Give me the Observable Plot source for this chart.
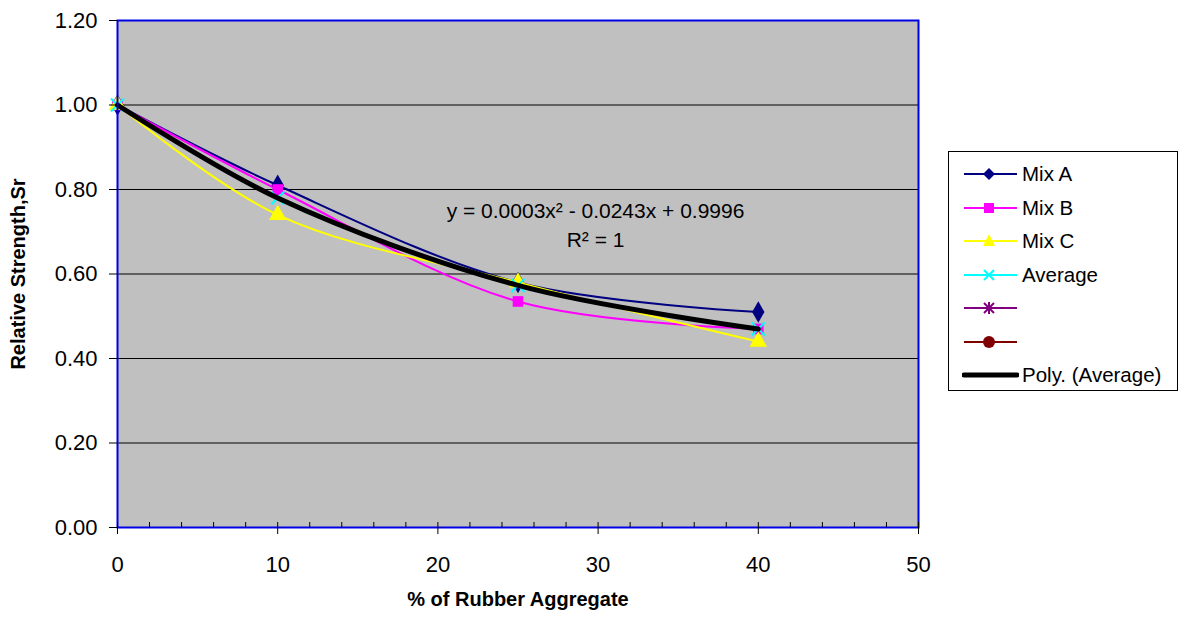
<!DOCTYPE html>
<html>
<head>
<meta charset="utf-8">
<script src="https://cdn.jsdelivr.net/npm/d3@7"></script>
<script src="https://cdn.jsdelivr.net/npm/@observablehq/plot@0.6"></script>
<style>
  body { margin: 0; background: #fff; font-family: "Liberation Sans", Arial, sans-serif; }
  #wrap { position: relative; width: 1186px; height: 621px; }
  #legend { position: absolute; left: 948px; top: 151px; width: 230px; height: 240px; border: 1px solid #000; background: #fff; box-sizing: border-box; }
  .row { position: absolute; left: 0; height: 30px; display: flex; align-items: center; }
  .row svg { margin-left: 13px; }
  .row span { margin-left: 3px; font-size: 20.5px; color: #000; white-space: nowrap; }
</style>
</head>
<body>
<div id="wrap"><div id="chart"></div><div id="legend"></div></div>
<script>
const rubber = [0, 10, 25, 40];
const mixA = [1.00, 0.81, 0.58, 0.51];
const mixB = [1.00, 0.80, 0.535, 0.47];
const mixC = [1.00, 0.74, 0.58, 0.44];
const average = [1.00, 0.78, 0.573, 0.47];
const seriesNames = ["Mix A", "Mix B", "Mix C", "Average"];
const seriesColors = ["#000080", "#FF00FF", "#FFFF00", "#00FFFF"];
const seriesSymbols = ["diamond", "square", "triangle", "times"];
const yTicks = [0, 0.2, 0.4, 0.6, 0.8, 1.0, 1.2];
const xTicks = [0, 10, 20, 30, 40, 50];
const xMinorTicks = d3.range(0, 51, 2);
const equationLines = [
  {x: 29.84, y: 0.748, text: "y = 0.0003x² - 0.0243x + 0.9996"},
  {x: 29.84, y: 0.679, text: "R² = 1"}
];
const legendItems = [
  {name: "Mix A", color: "#000080", sym: "diamond"},
  {name: "Mix B", color: "#FF00FF", sym: "square"},
  {name: "Mix C", color: "#FFFF00", sym: "triangle"},
  {name: "Average", color: "#00FFFF", sym: "times"},
  {name: "", color: "#800080", sym: "asterisk"},
  {name: "", color: "#800000", sym: "circle"},
  {name: "Poly. (Average)", color: "#000000", sym: "none"}
];

const allSeries = [mixA, mixB, mixC, average];
const data = [];
allSeries.forEach((vals, i) => vals.forEach((v, j) => data.push({series: seriesNames[i], x: rubber[j], y: v})));
const avgData = average.map((v, j) => ({x: rubber[j], y: v}));

const lineMarks = [];
const dotMarks = [];
seriesNames.forEach((name, i) => {
  const d = data.filter(r => r.series === name);
  lineMarks.push(Plot.line(d, {x: "x", y: "y", stroke: seriesColors[i], strokeWidth: 2, curve: "catmull-rom"}));
  if (seriesSymbols[i] === "times") {
    dotMarks.push(Plot.dot(d, {x: "x", y: "y", symbol: "times", stroke: seriesColors[i], strokeWidth: 2, r: 6}));
  } else {
    dotMarks.push(Plot.dot(d, {x: "x", y: "y", symbol: seriesSymbols[i], fill: seriesColors[i], stroke: "none", r: seriesSymbols[i] === "square" ? 6 : 6.5}));
  }
});

const chart = Plot.plot({
  width: 1186,
  height: 621,
  marginLeft: 117,
  marginRight: 268,
  marginTop: 20,
  marginBottom: 94,
  style: {fontFamily: "Liberation Sans, Arial, sans-serif", background: "#fff", color: "#000"},
  x: {domain: [0, 50]},
  y: {domain: [0, 1.2]},
  marks: [
    Plot.frame({fill: "#C0C0C0", stroke: "none"}),
    Plot.gridY(yTicks, {stroke: "#000", strokeOpacity: 1, strokeWidth: 1}),
    ...lineMarks,
    ...dotMarks,
    Plot.line(avgData, {x: "x", y: "y", stroke: "#000", strokeWidth: 5, curve: "catmull-rom"}),
    Plot.frame({stroke: "#0000E6", strokeWidth: 2}),
    Plot.axisY({ticks: yTicks, tickFormat: d3.format(".2f"), tickSize: 8, tickPadding: 12, fontSize: 22, label: null}),
    Plot.axisX({ticks: xTicks, tickFormat: d => d, tickSize: 7, tickPadding: 22, fontSize: 22, label: null}),
    Plot.axisX({ticks: xMinorTicks, tickSize: -5, text: null, label: null}),
    Plot.text(equationLines, {x: "x", y: "y", text: "text", fontSize: 21, fill: "#000"}),
    Plot.text(["% of Rubber Aggregate"], {frameAnchor: "bottom", textAnchor: "middle", dy: 78, fontWeight: "bold", fontSize: 20, fill: "#000"}),
    Plot.text(["Relative Strength,Sr"], {frameAnchor: "left", textAnchor: "middle", rotate: -90, dx: -99, fontWeight: "bold", fontSize: 20, fill: "#000"})
  ]
});
document.getElementById("chart").appendChild(chart);

const legend = document.getElementById("legend");
const rowTops = [7, 41, 74, 108, 141, 175, 208];
legendItems.forEach((it, i) => {
  const row = document.createElement("div");
  row.className = "row";
  row.style.top = rowTops[i] + "px";
  let marker = "";
  const c = it.color;
  if (it.sym === "diamond") marker = `<path d="M27,9 L33,15 L27,21 L21,15 Z" fill="${c}"/>`;
  else if (it.sym === "square") marker = `<rect x="22" y="10" width="10" height="10" fill="${c}"/>`;
  else if (it.sym === "triangle") marker = `<path d="M27,8 L33,20 L21,20 Z" fill="${c}"/>`;
  else if (it.sym === "times") marker = `<path d="M22,10 L32,20 M32,10 L22,20" stroke="${c}" stroke-width="2"/>`;
  else if (it.sym === "asterisk") marker = `<path d="M22,10 L32,20 M32,10 L22,20 M27,9 L27,21" stroke="${c}" stroke-width="2"/>`;
  else if (it.sym === "circle") marker = `<circle cx="27" cy="15" r="6" fill="${c}"/>`;
  const sw = it.sym === "none" ? 5 : 2;
  row.innerHTML = `<svg width="57" height="30"><line x1="2" y1="15" x2="55" y2="15" stroke="${c}" stroke-width="${sw}" stroke-linecap="${it.sym === 'none' ? 'round' : 'butt'}"/>${marker}</svg><span>${it.name}</span>`;
  legend.appendChild(row);
});
</script>
</body>
</html>
